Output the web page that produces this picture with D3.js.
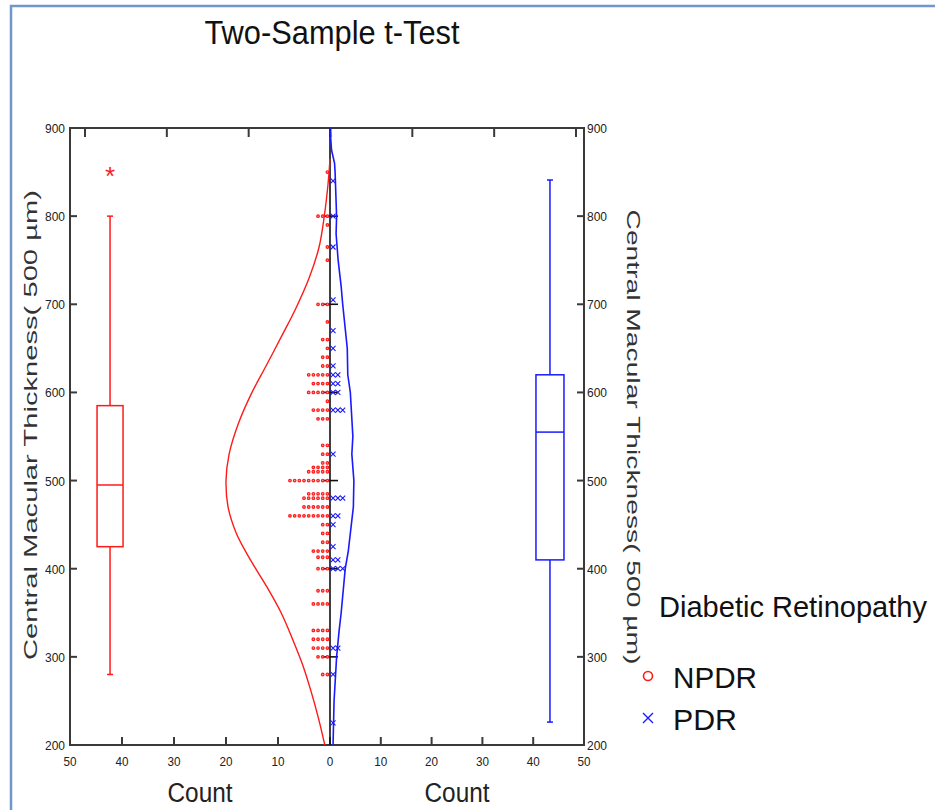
<!DOCTYPE html>
<html>
<head>
<meta charset="utf-8">
<script src="https://cdn.jsdelivr.net/npm/d3@7"></script>
<style>
  body { margin: 0; background: #fff; }
  text { font-family: "Liberation Sans", Arial, sans-serif; }
</style>
</head>
<body>
<svg class="mySVG" width="935" height="810"></svg>
<script>
var width = 935, height = 810;

// axis ticks
var yTicks = [200, 300, 400, 500, 600, 700, 800, 900];
var countTicks = [0, 10, 20, 30, 40, 50];
var topUnits = [0, 1, 2, 3, 4, 5, 6];

// dot plot rows: thickness value and number of eyes at it
var npdrThickness = [850, 800, 790, 765, 750, 700, 680, 660, 650, 640, 630, 620, 610, 600, 590, 580, 570,
                     540, 530, 520, 515, 510, 500, 485, 480, 470, 460, 450, 440, 430, 420, 413, 400,
                     375, 360, 330, 320, 310, 300, 280];
var npdrCount =     [1, 3, 1, 1, 1, 3, 1, 2, 1, 2, 2, 5, 4, 5, 1, 4, 3,
                     2, 2, 2, 4, 5, 9, 5, 6, 6, 9, 2, 2, 2, 4, 3, 3,
                     3, 4, 4, 4, 4, 3, 2];
var pdrThickness = [840, 800, 765, 705, 670, 650, 630, 620, 610, 600, 580, 530, 480, 460, 450, 425, 410, 400, 310, 280, 225];
var pdrCount =     [1, 1, 1, 1, 1, 1, 1, 2, 2, 2, 3, 1, 3, 2, 1, 1, 2, 3, 2, 1, 1];

// fitted curves (thickness, count)
var npdrCurveThickness = [865, 835, 800, 765, 730, 695, 665, 630, 600, 565, 530, 500, 470, 440, 410, 380, 350, 320, 290, 260, 230, 200];
var npdrCurveCount =     [0, 0.4, 1.1, 2.1, 4.0, 6.6, 9.2, 12.3, 15.0, 17.6, 19.4, 20.0, 19.6, 18.0, 15.3, 12.2, 9.4, 7.2, 5.2, 3.6, 2.2, 1.0];
var pdrCurveThickness = [900, 875, 860, 850, 800, 780, 750, 720, 700, 650, 620, 600, 550, 530, 500, 470, 450, 420, 400, 350, 330, 300, 250, 200];
var pdrCurveCount =     [0, 0.3, 0.9, 1.0, 1.3, 1.2, 1.6, 2.2, 2.5, 3.4, 3.5, 4.0, 4.5, 4.3, 4.7, 4.6, 4.2, 3.6, 3.0, 2.2, 1.8, 1.3, 0.8, 0.6];

// box plots: min, q1, median, q3, max
var npdrBox = [280, 425, 495, 585, 800];
var npdrOutliers = [850];
var pdrBox = [226, 410, 555, 620, 841];

var red = "#ff1a1a", blue = "#1a1aff", axisColor = "#3a3a3a";

var y = d3.scaleLinear().domain([200, 900]).range([745, 128]);
var xl = d3.scaleLinear().domain([50, 0]).range([70, 330]);
var xr = d3.scaleLinear().domain([0, 50]).range([330, 584]);
var xTop = d3.scaleLinear().domain([0, 6]).range([85, 576]);

const svg = d3.select('.mySVG');

// screenshot frame
svg.append("rect")
    .attr("x", 11).attr("y", 6)
    .attr("width", 1000).attr("height", 1000)
    .attr("fill", "none")
    .attr("stroke", "#7097cc")
    .attr("stroke-width", 2.5);

svg.append("text")
    .attr("x", 332).attr("y", 44)
    .attr("text-anchor", "middle")
    .attr("font-size", 34)
    .attr("textLength", 255)
    .attr("lengthAdjust", "spacingAndGlyphs")
    .attr("fill", "#111")
    .text("Two-Sample t-Test");

// frame
const frame = svg.append("g").attr("stroke", axisColor).attr("stroke-width", 2).attr("fill", "none");
frame.append("rect")
    .attr("x", xl(50)).attr("y", y(900))
    .attr("width", xr(50) - xl(50)).attr("height", y(200) - y(900));

// left & right y ticks
frame.selectAll(".yl").data(yTicks).join("line")
    .attr("x1", xl(50)).attr("x2", xl(50) + 7)
    .attr("y1", d => y(d)).attr("y2", d => y(d));
frame.selectAll(".yr").data(yTicks).join("line")
    .attr("x1", xr(50)).attr("x2", xr(50) - 7)
    .attr("y1", d => y(d)).attr("y2", d => y(d));

// bottom count ticks
frame.selectAll(".bl").data(countTicks).join("line")
    .attr("x1", d => xl(d)).attr("x2", d => xl(d))
    .attr("y1", y(200)).attr("y2", y(200) - 8);
frame.selectAll(".br").data(countTicks).join("line")
    .attr("x1", d => xr(d)).attr("x2", d => xr(d))
    .attr("y1", y(200)).attr("y2", y(200) - 8);
// top ticks
frame.selectAll(".tt").data(topUnits).join("line")
    .attr("x1", d => xTop(d)).attr("x2", d => xTop(d))
    .attr("y1", y(900)).attr("y2", y(900) + 9);

// tick labels (narrow, tall digits like the reference)
const tl = svg.append("g").attr("font-size", 13.5).attr("fill", "#222");
tl.selectAll(".lyl").data(yTicks).join("text")
    .attr("x", xl(50) - 5).attr("y", d => y(d) + 5)
    .attr("text-anchor", "end")
    .attr("textLength", 20).attr("lengthAdjust", "spacingAndGlyphs")
    .text(d => d);
tl.selectAll(".lyr").data(yTicks).join("text")
    .attr("x", xr(50) + 3).attr("y", d => y(d) + 5)
    .attr("textLength", 20).attr("lengthAdjust", "spacingAndGlyphs")
    .text(d => d);
tl.selectAll(".lxl").data(countTicks).join("text")
    .attr("x", d => xl(d)).attr("y", y(200) + 21)
    .attr("text-anchor", "middle")
    .attr("textLength", d => String(d).length * 6.5).attr("lengthAdjust", "spacingAndGlyphs")
    .text(d => d);
tl.selectAll(".lxr").data(countTicks.slice(1)).join("text")
    .attr("x", d => xr(d)).attr("y", y(200) + 21)
    .attr("text-anchor", "middle")
    .attr("textLength", 13).attr("lengthAdjust", "spacingAndGlyphs")
    .text(d => d);

// axis titles
svg.append("text")
    .attr("x", xl(25)).attr("y", 802)
    .attr("text-anchor", "middle").attr("font-size", 27).attr("fill", "#222")
    .attr("textLength", 65).attr("lengthAdjust", "spacingAndGlyphs")
    .text("Count");
svg.append("text")
    .attr("x", xr(25)).attr("y", 802)
    .attr("text-anchor", "middle").attr("font-size", 27).attr("fill", "#222")
    .attr("textLength", 65).attr("lengthAdjust", "spacingAndGlyphs")
    .text("Count");
svg.append("text")
    .attr("transform", "translate(37,425) rotate(-90)")
    .attr("text-anchor", "middle").attr("font-size", 19).attr("fill", "#333")
    .attr("textLength", 470).attr("lengthAdjust", "spacingAndGlyphs")
    .text("Central Macular Thickness( 500 µm)");
svg.append("text")
    .attr("transform", "translate(627,437) rotate(90)")
    .attr("text-anchor", "middle").attr("font-size", 19).attr("fill", "#333")
    .attr("textLength", 455).attr("lengthAdjust", "spacingAndGlyphs")
    .text("Central Macular Thickness( 500 µm)");

// center line with small ticks
svg.append("line")
    .attr("x1", xl(0)).attr("x2", xl(0))
    .attr("y1", y(900)).attr("y2", y(200))
    .attr("stroke", "#111").attr("stroke-width", 1.6);
svg.selectAll(".ct").data(yTicks.slice(1, -1)).join("line")
    .attr("x1", xl(0) - 8).attr("x2", xl(0) + 8)
    .attr("y1", d => y(d)).attr("y2", d => y(d))
    .attr("stroke", "#111").attr("stroke-width", 1.6);

// fitted curves
const npdrLine = d3.line()
    .x((d, i) => xl(npdrCurveCount[i]))
    .y(d => y(d))
    .curve(d3.curveCatmullRom);
svg.append("path")
    .attr("d", npdrLine(npdrCurveThickness))
    .attr("fill", "none").attr("stroke", red).attr("stroke-width", 1.4);

const pdrLine = d3.line()
    .x((d, i) => xr(pdrCurveCount[i]))
    .y(d => y(d));
svg.append("path")
    .attr("d", pdrLine(pdrCurveThickness))
    .attr("fill", "none").attr("stroke", blue).attr("stroke-width", 1.6);

// dot plots
var npdrDots = [];
npdrThickness.forEach((v, i) => {
    for (let k = 0; k < npdrCount[i]; k++) npdrDots.push({v: v, k: k});
});
svg.append("g").selectAll("circle").data(npdrDots).join("circle")
    .attr("cx", d => xl(d.k * 0.9 + 0.5))
    .attr("cy", d => y(d.v))
    .attr("r", 1.3)
    .attr("fill", "#ff9a9a")
    .attr("stroke", red).attr("stroke-width", 1.2);

var pdrDots = [];
pdrThickness.forEach((v, i) => {
    for (let k = 0; k < pdrCount[i]; k++) pdrDots.push({v: v, k: k});
});
svg.append("g").selectAll("path").data(pdrDots).join("path")
    .attr("transform", d => `translate(${xr(d.k * 0.95 + 0.6)},${y(d.v)})`)
    .attr("d", "M-2.5,-2.5L2.5,2.5M-2.5,2.5L2.5,-2.5")
    .attr("stroke", blue).attr("stroke-width", 1.1);

// box plots
function drawBox(stats, cx, halfW, color) {
    const g = svg.append("g").attr("stroke", color).attr("stroke-width", 1.5).attr("fill", "none");
    g.append("line").attr("x1", cx).attr("x2", cx).attr("y1", y(stats[0])).attr("y2", y(stats[1]));
    g.append("line").attr("x1", cx).attr("x2", cx).attr("y1", y(stats[3])).attr("y2", y(stats[4]));
    g.append("line").attr("x1", cx - 3).attr("x2", cx + 3).attr("y1", y(stats[0])).attr("y2", y(stats[0]));
    g.append("line").attr("x1", cx - 3).attr("x2", cx + 3).attr("y1", y(stats[4])).attr("y2", y(stats[4]));
    g.append("rect").attr("x", cx - halfW).attr("y", y(stats[3]))
        .attr("width", halfW * 2).attr("height", y(stats[1]) - y(stats[3]));
    g.append("line").attr("x1", cx - halfW).attr("x2", cx + halfW).attr("y1", y(stats[2])).attr("y2", y(stats[2]));
}
drawBox(npdrBox, xl(42.3), 13, red);
drawBox(pdrBox, xr(43.3), 14, blue);

svg.selectAll(".out").data(npdrOutliers).join("text")
    .attr("x", xl(42.3)).attr("y", d => y(d) + 13)
    .attr("text-anchor", "middle")
    .attr("font-size", 26).attr("fill", red)
    .text("*");

// legend
svg.append("text")
    .attr("x", 659).attr("y", 617)
    .attr("font-size", 30).attr("fill", "#111")
    .attr("textLength", 268).attr("lengthAdjust", "spacingAndGlyphs")
    .text("Diabetic Retinopathy");
svg.append("circle")
    .attr("cx", 648).attr("cy", 676).attr("r", 4.5)
    .attr("fill", "none").attr("stroke", red).attr("stroke-width", 1.6);
svg.append("path")
    .attr("transform", "translate(648,718)")
    .attr("d", "M-5,-5L5,5M-5,5L5,-5")
    .attr("stroke", blue).attr("stroke-width", 1.4);
svg.append("text")
    .attr("x", 673).attr("y", 688)
    .attr("font-size", 30).attr("fill", "#111")
    .attr("textLength", 84).attr("lengthAdjust", "spacingAndGlyphs")
    .text("NPDR");
svg.append("text")
    .attr("x", 673).attr("y", 730)
    .attr("font-size", 30).attr("fill", "#111")
    .attr("textLength", 64).attr("lengthAdjust", "spacingAndGlyphs")
    .text("PDR");
</script>
</body>
</html>
